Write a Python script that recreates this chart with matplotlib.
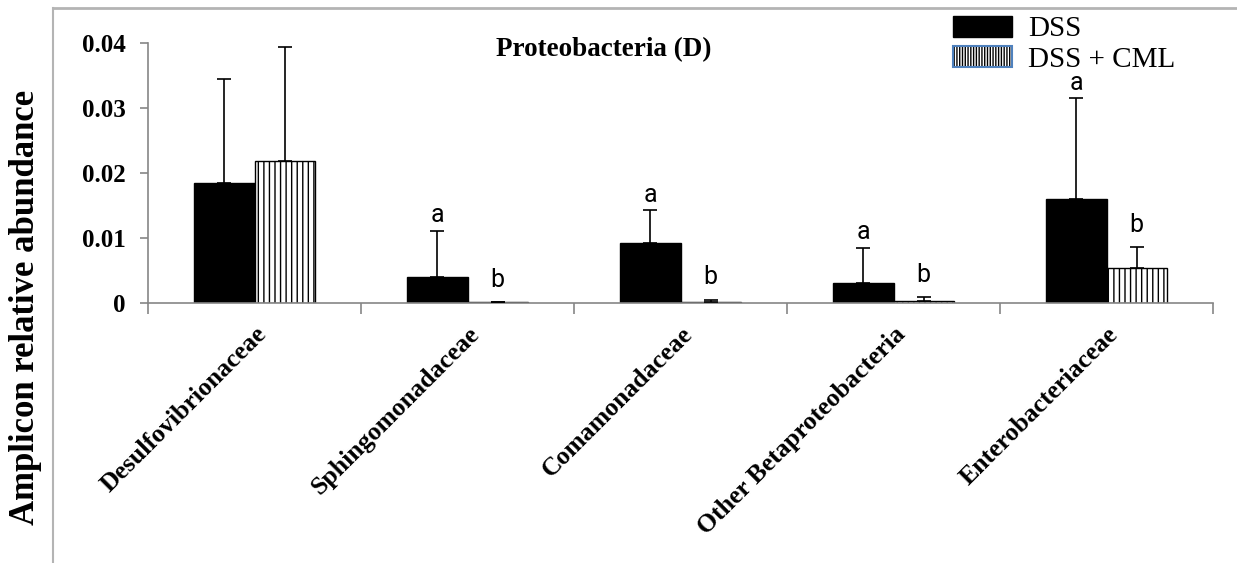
import numpy as np
import matplotlib.pyplot as plt
from matplotlib.patches import Patch
from matplotlib.lines import Line2D
from matplotlib.legend_handler import HandlerTuple

SERIF = ["Liberation Serif", "DejaVu Serif"]

categories = ["Desulfovibrionaceae", "Sphingomonadaceae", "Comamonadaceae",
              "Other Betaproteobacteria", "Enterobacteriaceae"]
dss_mean = [0.0185, 0.0040, 0.0093, 0.0031, 0.0160]
dss_err = [0.0160, 0.0071, 0.0050, 0.0054, 0.0155]
cml_mean = [0.0219, 0.0001, 0.0002, 0.0003, 0.0054]
cml_err = [0.0175, 0.0, 0.0003, 0.0006, 0.0032]
dss_letters = ["", "a", "a", "a", "a"]
cml_letters = ["", "b", "b", "b", "b"]
yticks = [0, 0.01, 0.02, 0.03, 0.04]
ytick_labels = ["0", "0.01", "0.02", "0.03", "0.04"]

AXIS_GRAY = "#868686"

fig = plt.figure(figsize=(12.37, 5.63), dpi=100)
ax = fig.add_axes([148 / 1237, 260 / 563, 1065 / 1237, 260 / 563])

x = np.arange(len(categories))
w = 0.283

ax.bar(x - w, dss_mean, w, align="edge", color="black", edgecolor="black",
       linewidth=1.0, zorder=2)
ax.bar(x, cml_mean, w, align="edge", color="white", edgecolor="black",
       hatch="|||", linewidth=1.0, zorder=2)

# upper error bars only
ax.errorbar(x - w / 2, dss_mean, yerr=[np.zeros(len(x)), dss_err], fmt="none",
            ecolor="black", elinewidth=1.2, capsize=5, capthick=1.2, zorder=3)
ax.errorbar(x + w / 2, cml_mean, yerr=[np.zeros(len(x)), cml_err], fmt="none",
            ecolor="black", elinewidth=1.2, capsize=5, capthick=1.2, zorder=3)

# significance letters
for i in range(len(x)):
    if dss_letters[i]:
        ax.text(x[i] - w / 2, dss_mean[i] + dss_err[i] + 0.0013, dss_letters[i],
                ha="center", va="baseline", fontsize=18, family="Roboto")
    if cml_letters[i]:
        ax.text(x[i] + w / 2, cml_mean[i] + cml_err[i] + 0.0024, cml_letters[i],
                ha="center", va="baseline", fontsize=18, family="Roboto")

ax.set_xlim(-0.5, len(categories) - 0.5)
ax.set_ylim(0, 0.04)

for s in ["top", "right"]:
    ax.spines[s].set_visible(False)
for s in ["left", "bottom"]:
    ax.spines[s].set_color(AXIS_GRAY)
    ax.spines[s].set_linewidth(1.2)

ax.set_yticks(yticks)
ax.set_yticklabels(ytick_labels, family=SERIF, fontweight="bold", fontsize=18)
ax.tick_params(axis="y", direction="out", length=6, width=1.2, color=AXIS_GRAY,
               pad=10)

ax.set_xticks(x)
ax.set_xticklabels(categories, family=SERIF, fontweight="bold", fontsize=18.5,
                   rotation=45, ha="right", rotation_mode="anchor")
ax.set_xticks(np.arange(len(categories) + 1) - 0.5, minor=True)
ax.tick_params(axis="x", which="major", length=0, pad=14)
ax.tick_params(axis="x", which="minor", direction="out", length=8, width=1.2,
               color=AXIS_GRAY)

ax.text(0.428, 0.973, "Proteobacteria (D)", transform=ax.transAxes,
        ha="center", va="center", family=SERIF, fontweight="bold", fontsize=19.5)

fig.text(26 / 1237, 1 - 307 / 563, "Amplicon relative abundance", rotation=90,
         ha="center", va="center", family=SERIF, fontweight="bold", fontsize=25)

# legend
h_dss = Patch(facecolor="black", edgecolor="black")
h_cml = (Patch(facecolor="white", edgecolor="black", hatch="||||||", linewidth=0),
         Patch(facecolor="none", edgecolor="#4F81BD", linewidth=1.5))
leg = fig.legend([h_dss, h_cml], ["DSS", "DSS + CML"],
                 handler_map={tuple: HandlerTuple(ndivide=1)},
                 loc="upper left", bbox_to_anchor=(938 / 1237, 1 - 1 / 563),
                 frameon=False, borderpad=0, prop={"family": SERIF, "size": 21},
                 handlelength=2.05, handleheight=0.75, handletextpad=0.55,
                 labelspacing=0.12)

# outer frame lines
fig.add_artist(Line2D([53 / 1237, 1], [1 - 8 / 563, 1 - 8 / 563],
                      transform=fig.transFigure, color="#B4B4B4", linewidth=2))
fig.add_artist(Line2D([53 / 1237, 53 / 1237], [0, 1 - 8 / 563],
                      transform=fig.transFigure, color="#B4B4B4", linewidth=1.5))

fig.savefig("out.png", dpi=100)
